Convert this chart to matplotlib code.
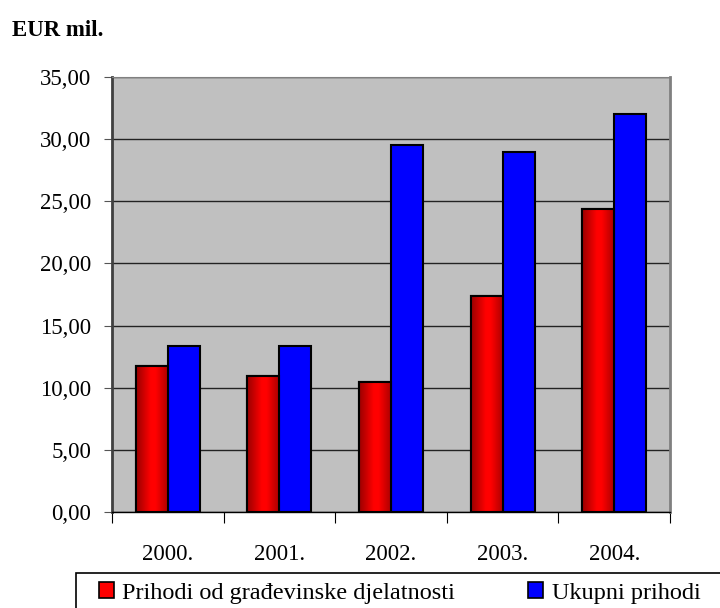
import numpy as np
import matplotlib
matplotlib.use("Agg")
import matplotlib.pyplot as plt
from matplotlib.colors import LinearSegmentedColormap
from matplotlib.patches import Rectangle

years = ["2000.", "2001.", "2002.", "2003.", "2004."]
prihodi_gradj = [11.77, 10.97, 10.45, 17.40, 24.35]
ukupni = [13.36, 13.36, 29.50, 28.96, 32.05]
labels = ["Prihodi od građevinske djelatnosti", "Ukupni prihodi"]

plt.rcParams['font.family'] = ['Liberation Serif', 'DejaVu Serif']

fig = plt.figure(figsize=(7.2, 6.08), dpi=100)
ax = fig.add_axes([112/720, 1-512/608, (670-112)/720, (512-77)/608])
ax.set_facecolor("#C0C0C0")

x = np.arange(len(years)) + 0.5
w = 0.287
red_cmap = LinearSegmentedColormap.from_list(
    "redgrad", [(0, "#9a0000"), (0.45, "#ff0000"), (0.6, "#ff0000"), (1, "#a80000")])

bars_r = ax.bar(x - w/2, prihodi_gradj, w, color="#ff0000", edgecolor="black", linewidth=1.5, zorder=3)
bars_b = ax.bar(x + w/2, ukupni, w, color="#0000ff", edgecolor="black", linewidth=1.5, zorder=3)

grad = np.linspace(0, 1, 64).reshape(1, -1)
for b in bars_r:
    x0, y0 = b.get_x(), b.get_y()
    im = ax.imshow(grad, cmap=red_cmap, aspect='auto', zorder=3.5,
                   extent=[x0, x0 + b.get_width(), y0, y0 + b.get_height()])
    im.set_clip_path(b)
    r = Rectangle((x0, y0), b.get_width(), b.get_height(), fill=False,
                  edgecolor="black", linewidth=1.5, zorder=4)
    ax.add_patch(r)

ax.set_xlim(0, 5)
ax.set_ylim(0, 35)
ax.set_yticks(np.arange(0, 36, 5))
ax.set_yticklabels([f"{v:.2f}".replace(".", ",") for v in np.arange(0, 36, 5)], fontsize=16.5)
ax.yaxis.grid(True, color="#222222", linewidth=1.0, zorder=1)
ax.set_axisbelow(True)

ax.set_xticks(np.arange(0, 6))
ax.set_xticklabels([])
ax.set_xticks(x, minor=True)
ax.set_xticklabels(years, minor=True, fontsize=16.5)
ax.tick_params(axis='x', which='major', length=8, color="black", direction='out')
ax.tick_params(axis='x', which='minor', length=0, pad=23)
ax.tick_params(axis='y', length=6, color="#555555", pad=9)

ax.spines['left'].set_color("#404040")
ax.spines['left'].set_linewidth(2)
ax.spines['bottom'].set_color("black")
ax.spines['bottom'].set_linewidth(1)
ax.spines['top'].set_color("#808080")
ax.spines['right'].set_color("#808080")
ax.spines['right'].set_linewidth(2)

fig.text(12/720, 1-30/608, "EUR mil.", fontsize=16.5, fontweight='bold', va='center')

fig.patches.append(Rectangle((76/720, -0.05), 0.95, 1-573/608+0.05, transform=fig.transFigure,
                             fill=False, edgecolor="black", linewidth=1.2))
h1 = Rectangle((0, 0), 1, 1, facecolor="#ff0000", edgecolor="black", linewidth=1.2)
h2 = Rectangle((0, 0), 1, 1, facecolor="#0000ff", edgecolor="black", linewidth=1.2)
fig.legend([h1, h2], labels, loc='center left', bbox_to_anchor=(94/720, 1-593/608),
           ncol=2, frameon=False, fontsize=17.5, handlelength=0.62, handleheight=0.62,
           handletextpad=0.35, columnspacing=3.0, borderaxespad=0, borderpad=0.2)

fig.savefig("out.png", dpi=100)
